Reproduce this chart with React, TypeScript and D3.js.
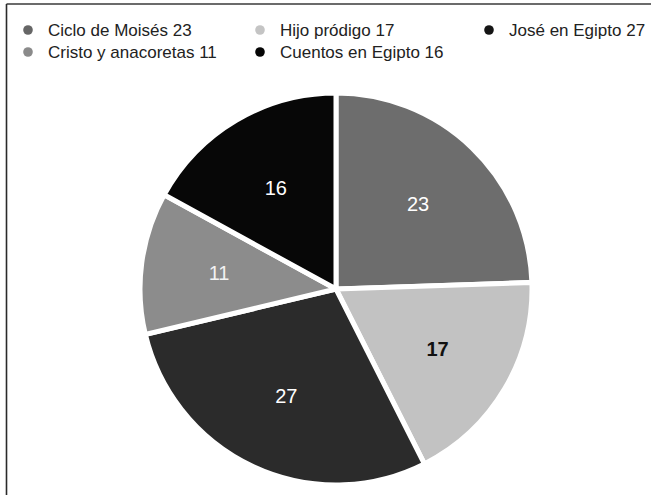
import React from "react";
import * as d3 from "d3";

const categories = ["Ciclo de Moisés", "Hijo pródigo", "José en Egipto", "Cristo y anacoretas", "Cuentos en Egipto"];
const values = [23, 17, 27, 11, 16];
const colors = ["#6d6d6d", "#c2c2c2", "#2b2b2b", "#8c8c8c", "#070707"];
const legendColors = ["#666666", "#c4c4c4", "#141414", "#8a8a8a", "#050505"];
const labelColors = ["#ffffff", "#111111", "#ffffff", "#f2f2f2", "#ffffff"];
const labelWeights = ["normal", "bold", "normal", "normal", "normal"];
const legendOrder = [0, 1, 2, 3, 4];

const W = 656;
const H = 495;
const cx = 336;
const cy = 289;
const R = 196;
const font = "'Liberation Sans', Arial, Helvetica, sans-serif";

export default function App() {
  const pie = d3.pie<number>().sort(null).value((d) => d);
  const arcs = pie(values);
  const arc = d3.arc<d3.PieArcDatum<number>>().innerRadius(0).outerRadius(R);
  const labelArc = d3.arc<d3.PieArcDatum<number>>().innerRadius(236).outerRadius(0);
  const colX = [28, 260, 489];
  const rowY = [30, 52];

  return (
    <svg width={W} height={H} style={{ position: "absolute", left: 0, top: 0, background: "#fff" }}>
      <rect x={0} y={0} width={W} height={H} fill="#ffffff" />
      <line x1={6.5} y1={4} x2={651} y2={4} stroke="#3a3a3a" strokeWidth={1.6} />
      <line x1={6.5} y1={4} x2={6.5} y2={H} stroke="#2a2a2a" strokeWidth={1.6} />
      <g fontFamily={font} fontSize={17} fill="#222">
        {legendOrder.map((i, k) => {
          const col = k % 3;
          const row = Math.floor(k / 3);
          return (
            <g key={i} transform={`translate(${colX[col]},${rowY[row]})`}>
              <circle cx={0} cy={0} r={4.8} fill={legendColors[i]} />
              <text x={20} y={0} dy="0.36em">{`${categories[i]} ${values[i]}`}</text>
            </g>
          );
        })}
      </g>
      <g transform={`translate(${cx},${cy})`}>
        {arcs.map((a, i) => (
          <path key={i} d={arc(a) || ""} fill={colors[i]} stroke="#ffffff" strokeWidth={5} strokeLinejoin="miter" />
        ))}
        {arcs.map((a, i) => {
          const [x, y] = labelArc.centroid(a);
          return (
            <text
              key={"l" + i}
              x={x}
              y={y}
              dy="0.36em"
              textAnchor="middle"
              fontFamily={font}
              fontSize={20}
              fontWeight={labelWeights[i]}
              fill={labelColors[i]}
            >
              {values[i]}
            </text>
          );
        })}
      </g>
    </svg>
  );
}
